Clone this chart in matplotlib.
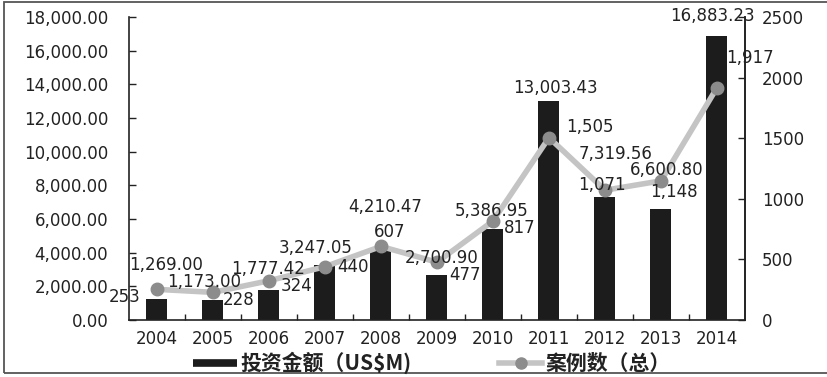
import matplotlib
matplotlib.use("Agg")
import matplotlib.pyplot as plt
from matplotlib.lines import Line2D
from matplotlib.patches import Rectangle
from matplotlib.ticker import FuncFormatter

years = ["2004", "2005", "2006", "2007", "2008", "2009", "2010", "2011", "2012", "2013", "2014"]
amounts = [1269.00, 1173.00, 1777.42, 3247.05, 4210.47, 2700.90, 5386.95, 13003.43, 7319.56, 6600.80, 16883.23]
cases = [253, 228, 324, 440, 607, 477, 817, 1505, 1071, 1148, 1917]
legend_labels = ["投资金额（US$M)", "案例数（总）"]

# label offsets in pixels (dx, dy) relative to each bar top / line point
amount_offsets = [(9, 34), (-9, 18), (-1, 21), (-9, 17), (4, 42), (5, 17),
                  (-1, 18), (6, 13), (11, 43), (6, 39), (-5, 20)]
case_offsets = [(-32, -8), (26, -8), (28, -5), (28, 0), (9, 14), (28, -13),
                (27, -7), (41, 11), (-3, 5), (13, -11), (33, 30)]

plt.rcParams["font.family"] = ["DejaVu Sans"]
TXT = "#222222"
FS = 12

fig = plt.figure(figsize=(8.28, 3.77), dpi=100)
ax = fig.add_axes([129 / 828, 1 - 320 / 377, (745 - 129) / 828, (320 - 17) / 377])
ax2 = ax.twinx()

x = list(range(len(years)))
ax.bar(x, amounts, width=0.375, color="#1c1c1c", zorder=2)
ax.set_xlim(-0.5, len(years) - 0.5)
ax.set_ylim(0, 18000)
ax.set_yticks(range(0, 18001, 2000))
ax.yaxis.set_major_formatter(FuncFormatter(lambda v, p: f"{v:,.2f}"))

ax2.plot(x, cases, color="#c4c4c4", lw=4.0, marker="o", markersize=9,
         markerfacecolor="#8c8c8c", markeredgecolor="#8c8c8c", zorder=3,
         solid_capstyle="round")
ax2.set_ylim(0, 2500)
ax2.set_yticks(range(0, 2501, 500))

ax.set_xticks(x)
ax.set_xticklabels(years)
ax.set_xticks([i + 0.5 for i in range(len(years) - 1)], minor=True)
ax.tick_params(axis="x", which="major", length=0, pad=7, labelsize=FS, labelcolor=TXT)
ax.tick_params(axis="x", which="minor", direction="in", length=4, width=1, color="#222")
ax.tick_params(axis="y", direction="in", length=5, width=1, color="#222", pad=15,
               labelsize=FS, labelcolor=TXT)
ax2.tick_params(axis="y", direction="in", length=5, width=1, color="#222", pad=12,
                labelsize=FS, labelcolor=TXT)

for a in (ax, ax2):
    a.spines["top"].set_visible(False)
    for s in ("left", "right", "bottom"):
        a.spines[s].set_color("#222")
        a.spines[s].set_linewidth(1.2)
ax2.spines["left"].set_visible(False)
ax2.spines["bottom"].set_visible(False)

px = 0.72  # pixels to points at 100 dpi
for i, v in enumerate(amounts):
    dx, dy = amount_offsets[i]
    ax2.annotate(f"{v:,.2f}", xy=(i, v), xycoords=ax.transData,
                 xytext=(dx * px, dy * px), textcoords="offset points",
                 ha="center", va="center", fontsize=FS, color=TXT, zorder=5,
                 annotation_clip=False)
for i, c in enumerate(cases):
    dx, dy = case_offsets[i]
    ax2.annotate(f"{c:,}", xy=(i, c), xycoords="data",
                 xytext=(dx * px, dy * px), textcoords="offset points",
                 ha="center", va="center", fontsize=FS, color=TXT, zorder=5,
                 annotation_clip=False)

handles = [
    Line2D([], [], color="#1c1c1c", lw=5.5, solid_capstyle="butt"),
    Line2D([], [], color="#c4c4c4", lw=4.0, marker="o", markersize=8,
           markerfacecolor="#8c8c8c", markeredgecolor="#8c8c8c"),
]
fig.legend(handles, legend_labels, loc="center", bbox_to_anchor=(432 / 828, 1 - 363 / 377),
           ncol=2, frameon=False, handlelength=2.1, handletextpad=0.15, columnspacing=4.2,
           prop={"family": ["Noto Sans CJK SC", "DejaVu Sans"], "weight": "bold", "size": 15},
           labelcolor=TXT)

# outer frame
fig.patches.append(Rectangle((4 / 828, 1 - 373 / 377), 830 / 828, 371 / 377,
                             transform=fig.transFigure, fill=False,
                             edgecolor="#555555", lw=1.3))

fig.savefig("out.png", dpi=100)
